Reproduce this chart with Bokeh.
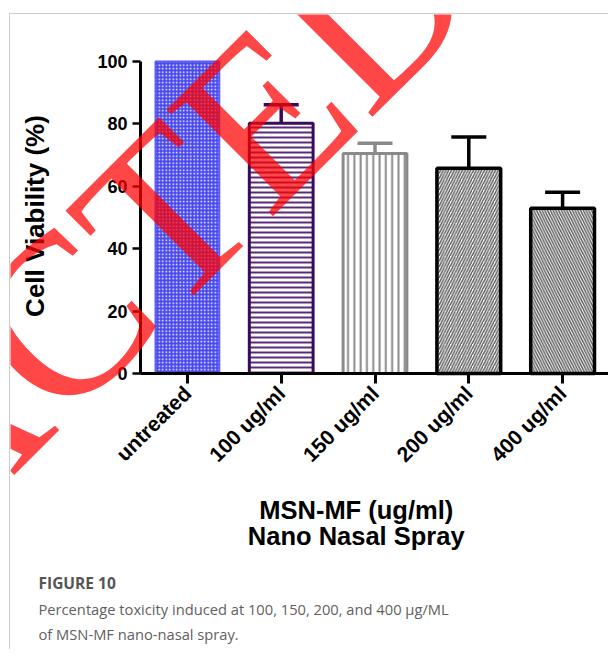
import math
from bokeh.plotting import figure
from bokeh.models import Range1d, Label, Whisker, TeeHead, ColumnDataSource, FixedTicker
from bokeh.embed import file_html
from bokeh.resources import INLINE

categories = ["untreated", "100 ug/ml", "150 ug/ml", "200 ug/ml", "400 ug/ml"]
viability = [100.0, 80.2, 70.5, 65.8, 53.0]
error_sd = [0.0, 6.0, 3.3, 10.0, 5.1]
y_ticks = [0, 20, 40, 60, 80, 100]

x_title_1 = "MSN-MF (ug/ml)"
x_title_2 = "Nano Nasal Spray"
y_title = "Cell Viability (%)"
fig_label = "FIGURE 10"
caption_1 = "Percentage toxicity induced at 100, 150, 200, and 400 \u00b5g/ML"
caption_2 = "of MSN-MF nano-nasal spray."
stamp = "RETRACTED"

# styles per bar
outline_colors = ["#5a5af2", "#3a0a5c", "#8a8a8a", "#000000", "#000000"]
fill_colors = ["#4848ee", "white", "white", "white", "white"]
hatch_patterns = ["dot", "horizontal_line", "vertical_line", "right_diagonal_line", "left_diagonal_line"]
hatch_colors = ["white", "#5a2a7a", "#8a8a8a", "#606060", "#606060"]
hatch_scales = [3.5, 5, 6.3, 5.5, 5.5]
hatch_weights = [1.0, 2, 2, 1.5, 1.5]
outline_widths = [2, 3, 3, 3.5, 3.5]

# bar centres on a numeric scale: category i sits at i + 0.5
positions = [i + 0.5 for i in range(len(categories))]

p = figure(
    width=599, height=636,
    x_range=Range1d(-1.386, 5.0),
    y_range=Range1d(-88.8, 115.1),
    output_backend="svg", toolbar_location=None,
    min_border_left=0, min_border_right=0, min_border_top=0, min_border_bottom=0,
    background_fill_color="white", border_fill_color="white",
)
p.margin = (13, 0, 0, 9)
p.styles = {"border-top": "1px solid #cccccc", "border-left": "1px solid #cccccc"}
p.outline_line_color = None
p.xgrid.grid_line_color = None
p.ygrid.grid_line_color = None

for i, cat in enumerate(categories):
    p.vbar(x=[positions[i]], top=[viability[i]], width=0.68, bottom=0,
           fill_color=fill_colors[i], line_color=outline_colors[i], line_width=outline_widths[i],
           hatch_pattern=hatch_patterns[i], hatch_color=hatch_colors[i],
           hatch_scale=hatch_scales[i], hatch_weight=hatch_weights[i])
    if error_sd[i] > 0:
        src = ColumnDataSource(dict(base=[positions[i]], lower=[viability[i]],
                                    upper=[viability[i] + error_sd[i]]))
        w = Whisker(source=src, base="base", lower="lower", upper="upper", dimension="height",
                    line_color=outline_colors[i], line_width=3.5,
                    upper_head=TeeHead(size=35, line_color=outline_colors[i], line_width=3.5),
                    lower_head=None)
        p.add_layout(w)

font = "Liberation Sans"
ax = p.xaxis[0]
ax.fixed_location = 0
ax.bounds = (0, len(categories))
ax.ticker = FixedTicker(ticks=positions)
ax.major_label_overrides = {pos: cat for pos, cat in zip(positions, categories)}
ax.axis_line_width = 3
ax.axis_line_color = "black"
ax.major_tick_line_width = 3
ax.major_tick_out = 10
ax.major_tick_in = 0
ax.minor_tick_line_color = None
ax.major_label_orientation = math.pi / 4
ax.major_label_text_font = font
ax.major_label_text_font_style = "bold"
ax.major_label_text_font_size = "21px"
ax.major_label_text_color = "black"
ax.major_label_standoff = 6

ay = p.yaxis[0]
ay.fixed_location = 0
ay.ticker = FixedTicker(ticks=y_ticks)
ay.bounds = (0, 100)
ay.axis_line_width = 3
ay.axis_line_color = "black"
ay.major_tick_line_width = 2.5
ay.major_tick_out = 8
ay.major_tick_in = 0
ay.minor_tick_line_color = None
ay.major_label_text_font = font
ay.major_label_text_font_style = "bold"
ay.major_label_text_font_size = "18px"
ay.major_label_text_color = "black"
ay.major_label_standoff = 5

# axis titles
p.add_layout(Label(x=-1.12, y=50.5, text=y_title, angle=90, angle_units="deg",
                   text_align="center", text_baseline="middle",
                   text_font=font, text_font_style="bold", text_font_size="26px",
                   text_color="black"))
p.add_layout(Label(x=2.30, y=-43.8, text=x_title_1,
                   text_align="center", text_baseline="middle",
                   text_font=font, text_font_style="bold", text_font_size="25.5px",
                   text_color="black"))
p.add_layout(Label(x=2.30, y=-52.0, text=x_title_2,
                   text_align="center", text_baseline="middle",
                   text_font=font, text_font_style="bold", text_font_size="25.5px",
                   text_color="black"))

# caption (screen units from the canvas bottom-left corner)
p.add_layout(Label(x=28, y=68, x_units="screen", y_units="screen", text=fig_label,
                   text_baseline="middle",
                   text_font="Open Sans", text_font_style="bold", text_font_size="15.5px",
                   text_color="#555555"))
p.add_layout(Label(x=28, y=42, x_units="screen", y_units="screen", text=caption_1,
                   text_baseline="middle",
                   text_font="Open Sans", text_font_size="14.7px", text_color="#5f5f5f"))
p.add_layout(Label(x=28, y=17, x_units="screen", y_units="screen", text=caption_2,
                   text_baseline="middle",
                   text_font="Open Sans", text_font_size="14.7px", text_color="#5f5f5f"))

# red stamp overlay
p.add_layout(Label(x=3.09, y=136, text=stamp,
                   angle=45, angle_units="deg", text_align="right", text_baseline="alphabetic",
                   text_font="Liberation Serif", text_font_size="230px",
                   text_color="#ff0000", text_alpha=0.72))

open("out.html", "w").write(file_html(p, INLINE))
